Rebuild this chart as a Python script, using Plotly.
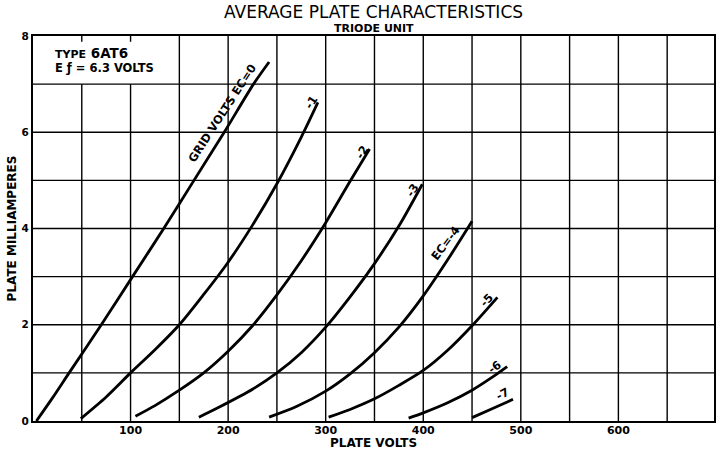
import plotly.graph_objects as go

# Plate voltage (V) and plate current (mA) for each grid bias curve
grid_bias = [0, -1, -2, -3, -4, -5, -6, -7]

ec0_v = [3.5, 20, 37, 70, 102, 134, 165, 196, 226, 242]
ec0_i = [0.0, 0.48, 1.0, 2.0, 3.0, 4.0, 5.0, 6.0, 7.0, 7.46]

ec1_v = [49, 75, 100, 125, 150, 175, 200, 225, 250, 275, 292]
ec1_i = [0.05, 0.5, 1.0, 1.48, 2.0, 2.63, 3.3, 4.07, 4.93, 5.9, 6.62]

ec2_v = [105, 125, 150, 175, 200, 225, 250, 275, 300, 325, 345]
ec2_i = [0.1, 0.32, 0.64, 1.0, 1.45, 1.98, 2.62, 3.33, 4.12, 4.98, 5.65]

ec3_v = [170, 190, 225, 250, 275, 300, 325, 350, 375, 399]
ec3_i = [0.08, 0.28, 0.66, 1.0, 1.42, 1.95, 2.58, 3.27, 4.05, 4.92]

ec4_v = [242, 270, 300, 325, 350, 375, 400, 425, 450]
ec4_i = [0.08, 0.3, 0.62, 0.98, 1.42, 1.95, 2.6, 3.35, 4.15]

ec5_v = [303, 325, 350, 375, 400, 425, 450, 476]
ec5_i = [0.08, 0.24, 0.46, 0.74, 1.05, 1.47, 1.98, 2.57]

ec6_v = [385, 400, 425, 450, 470, 486]
ec6_i = [0.06, 0.17, 0.38, 0.64, 0.9, 1.13]

ec7_v = [450, 470, 492]
ec7_i = [0.07, 0.25, 0.45]

curves_v = [ec0_v, ec1_v, ec2_v, ec3_v, ec4_v, ec5_v, ec6_v, ec7_v]
curves_i = [ec0_i, ec1_i, ec2_i, ec3_i, ec4_i, ec5_i, ec6_i, ec7_i]

# Curve labels: text, anchor (V, mA), rotation
label_text = ["GRID VOLTS EC=0", "-1", "-2", "-3", "EC=-4", "-5", "-6", "-7"]
label_v = [194, 285.5, 337, 389, 423, 465, 473, 481]
label_i = [6.4, 6.62, 5.6, 4.8, 3.7, 2.52, 1.13, 0.57]
label_angle = [-57, -58, -58, -56, -53, -45, -35, -28]

x_ticks = [100, 200, 300, 400, 500, 600]
y_ticks = [0, 2, 4, 6, 8]

FONT = "DejaVu Sans"
INK = "black"

fig = go.Figure()

for ec, vs, cs in zip(grid_bias, curves_v, curves_i):
    fig.add_trace(go.Scatter(
        x=vs, y=cs, mode="lines", name=f"Ec={ec}",
        line=dict(color=INK, width=2.8, shape="spline", smoothing=0.8),
        hoverinfo="x+y+name", showlegend=False,
    ))

shapes = []
# vertical grid: the 50 V and 100 V lines stop below the type box, with a stub at the top
for v in range(50, 700, 50):
    if v < 150:
        shapes.append(dict(type="line", xref="x", yref="y", x0=v, x1=v, y0=0, y1=7,
                           line=dict(color=INK, width=1.4), layer="below"))
        shapes.append(dict(type="line", xref="x", yref="y", x0=v, x1=v, y0=7.88, y1=8,
                           line=dict(color=INK, width=1.4), layer="below"))
    else:
        shapes.append(dict(type="line", xref="x", yref="y", x0=v, x1=v, y0=0, y1=8,
                           line=dict(color=INK, width=1.4), layer="below"))
# horizontal grid
for m in range(1, 8):
    shapes.append(dict(type="line", xref="x", yref="y", x0=0, x1=698, y0=m, y1=m,
                       line=dict(color=INK, width=1.4), layer="below"))

annotations = []
for t, v, c, a in zip(label_text, label_v, label_i, label_angle):
    annotations.append(dict(x=v, y=c, xref="x", yref="y", text=t, showarrow=False,
                            xanchor="center", yanchor="middle", textangle=a,
                            font=dict(family=FONT, size=11.5, color=INK, weight="bold")))

annotations += [
    dict(x=0.5, y=1.0623, xref="paper", yref="paper", text="AVERAGE PLATE CHARACTERISTICS",
         xanchor="center", yanchor="middle", showarrow=False,
         font=dict(family=FONT, size=17, color=INK)),
    dict(x=0.5, y=1.0182, xref="paper", yref="paper", text="TRIODE UNIT",
         xanchor="center", yanchor="middle", showarrow=False,
         font=dict(family=FONT, size=11, color=INK, weight="bold")),
    dict(x=0.5, y=-0.056, xref="paper", yref="paper", text="PLATE VOLTS",
         xanchor="center", yanchor="middle", showarrow=False,
         font=dict(family=FONT, size=12, color=INK, weight="bold")),
    dict(x=-0.031, y=0.5, xref="paper", yref="paper", text="PLATE MILLIAMPERES", textangle=-90,
         xanchor="center", yanchor="middle", showarrow=False,
         font=dict(family=FONT, size=12, color=INK, weight="bold")),
    dict(x=0.029, y=0.955, xref="paper", yref="paper", xanchor="left", yanchor="middle",
         text="<span style='font-size:11px'>TYPE</span> 6AT6",
         showarrow=False, font=dict(family=FONT, size=13.5, color=INK, weight="bold")),
    dict(x=0.029, y=0.918, xref="paper", yref="paper", xanchor="left", yanchor="middle",
         text="E ƒ = 6.3 VOLTS",
         showarrow=False, font=dict(family=FONT, size=11.5, color=INK, weight="bold")),
]

fig.update_layout(
    width=721, height=450,
    margin=dict(l=33, r=5, t=36, b=29),
    paper_bgcolor="white", plot_bgcolor="white",
    shapes=shapes, annotations=annotations,
    xaxis=dict(range=[0, 698], tickvals=x_ticks, showgrid=False, zeroline=False,
               showline=True, linecolor=INK, linewidth=2, mirror=True, ticks="",
               ticklabelstandoff=-2,
               tickfont=dict(family=FONT, size=11, color=INK, weight="bold")),
    yaxis=dict(range=[0, 8], tickvals=y_ticks, showgrid=False, zeroline=False,
               showline=True, linecolor=INK, linewidth=2, mirror=True, ticks="",
               ticklabelstandoff=0,
               tickfont=dict(family=FONT, size=10.5, color=INK, weight="bold")),
)

fig.write_html("out.html")
